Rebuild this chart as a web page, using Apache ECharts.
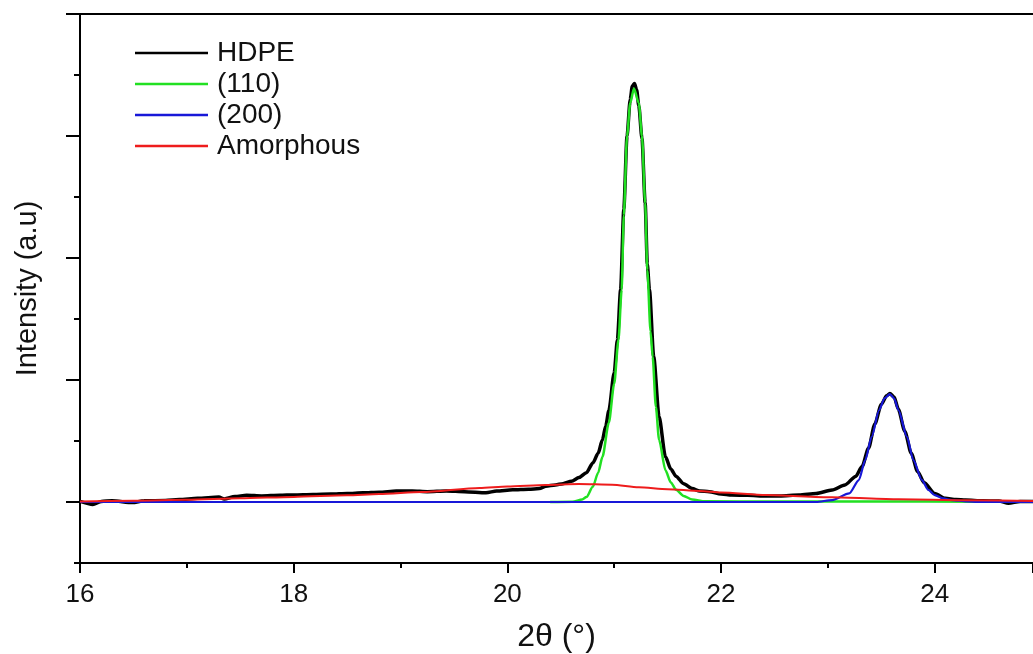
<!DOCTYPE html>
<html>
<head>
<meta charset="utf-8">
<script src="https://cdn.jsdelivr.net/npm/echarts@6/dist/echarts.min.js"></script>
<style>
  html, body { margin: 0; padding: 0; background: #ffffff; }
  #chart { width: 1033px; height: 654px; }
</style>
</head>
<body>
<div id="chart"></div>
<script>
// XRD pattern of HDPE with its peak deconvolution

// Measured pattern
const hdpeTheta = [
  16.00, 16.12, 16.20, 16.30, 16.49, 16.60, 16.80, 16.93, 17.10, 17.30, 17.35, 17.45,
  17.56, 17.70, 17.87, 18.00, 18.18, 18.35, 18.50, 18.65, 18.80, 18.96, 19.11, 19.25,
  19.43, 19.60, 19.80, 19.90, 20.05, 20.20, 20.30, 20.36, 20.45, 20.52, 20.60, 20.67,
  20.74, 20.80, 20.85, 20.89, 20.92, 20.95, 21.00, 21.03, 21.06, 21.09, 21.12, 21.15,
  21.17, 21.19, 21.21, 21.23, 21.26, 21.29, 21.31, 21.33, 21.37, 21.42, 21.48, 21.53,
  21.58, 21.65, 21.73, 21.80, 21.89, 22.00, 22.10, 22.25, 22.42, 22.55, 22.73, 22.89,
  23.04, 23.16, 23.26, 23.32, 23.38, 23.44, 23.50, 23.55, 23.58, 23.62, 23.66, 23.72,
  23.78, 23.84, 23.90, 24.00, 24.10, 24.20, 24.29, 24.45, 24.60, 24.69, 24.80, 25.00
];
const hdpeIntensity = [
  0.005, -0.02, 0.005, 0.010, -0.005, 0.010, 0.012, 0.020, 0.030, 0.040, 0.025, 0.045,
  0.055, 0.050, 0.055, 0.058, 0.062, 0.065, 0.070, 0.075, 0.080, 0.090, 0.090, 0.085,
  0.090, 0.085, 0.076, 0.090, 0.100, 0.105, 0.110, 0.130, 0.140, 0.150, 0.170, 0.200,
  0.240, 0.320, 0.400, 0.510, 0.620, 0.750, 1.060, 1.330, 1.740, 2.400, 3.000, 3.300,
  3.410, 3.430, 3.380, 3.250, 2.980, 2.450, 1.950, 1.740, 1.190, 0.700, 0.370, 0.270,
  0.210, 0.150, 0.110, 0.090, 0.085, 0.065, 0.057, 0.055, 0.049, 0.050, 0.057, 0.070,
  0.098, 0.140, 0.210, 0.290, 0.440, 0.640, 0.800, 0.870, 0.890, 0.860, 0.760, 0.580,
  0.400, 0.250, 0.160, 0.070, 0.030, 0.020, 0.016, 0.010, 0.008, -0.010, 0.005, 0.005
];

// (110) reflection
const p110Theta = [
  20.40, 20.61, 20.70, 20.74, 20.80, 20.85, 20.89, 20.95, 21.00, 21.04, 21.07, 21.09,
  21.12, 21.15, 21.185, 21.23, 21.26, 21.29, 21.31, 21.34, 21.36, 21.39, 21.42, 21.48,
  21.53, 21.58, 21.65, 21.73, 21.85, 22.50, 23.50, 24.40
];
const p110Intensity = [
  0.000, 0.003, 0.020, 0.040, 0.125, 0.240, 0.370, 0.650, 0.970, 1.330, 1.740, 2.350,
  3.000, 3.270, 3.390, 3.270, 3.000, 2.450, 1.900, 1.400, 1.190, 0.780, 0.510, 0.260,
  0.160, 0.100, 0.050, 0.020, 0.006, 0.004, 0.004, 0.003
];

// (200) reflection
const p200Theta = [
  16.00, 20.00, 22.89, 23.04, 23.20, 23.29, 23.35, 23.41, 23.48, 23.53, 23.58, 23.62,
  23.66, 23.74, 23.80, 23.88, 23.94, 24.00, 24.08, 24.16, 24.30, 24.40, 25.00
];
const p200Intensity = [
  0.000, 0.000, 0.000, 0.016, 0.070, 0.180, 0.344, 0.535, 0.754, 0.850, 0.885, 0.850,
  0.754, 0.535, 0.344, 0.180, 0.100, 0.057, 0.030, 0.016, 0.004, 0.000, 0.000
];

// Amorphous halo
const amorphTheta = [
  16.00, 16.50, 17.00, 17.50, 18.00, 18.50, 18.80, 19.20, 19.74, 20.00, 20.36, 20.67,
  20.98, 21.23, 21.50, 21.80, 22.00, 22.42, 23.04, 23.66, 24.29, 25.00
];
const amorphIntensity = [
  0.005, 0.010, 0.018, 0.030, 0.042, 0.055, 0.065, 0.082, 0.115, 0.128, 0.140, 0.148,
  0.142, 0.120, 0.105, 0.090, 0.078, 0.057, 0.038, 0.022, 0.014, 0.007
];

const seriesNames = ['HDPE', '(110)', '(200)', 'Amorphous'];
const seriesColors = ['#000000', '#22e022', '#1818d8', '#ee1c1c'];
const seriesWidths = [3.5, 2.5, 2.2, 2];
const thetaArrays = [hdpeTheta, p110Theta, p200Theta, amorphTheta];
const intensityArrays = [hdpeIntensity, p110Intensity, p200Intensity, amorphIntensity];

// Axis settings (the plotted window ends just short of 25°)
const thetaMin = 16, thetaMax = 24.92, thetaStep = 2;
const intensityMin = -0.5, intensityMax = 4, intensityStep = 0.5;
const intensityMajorTicks = [0, 1, 2, 3, 4];

const FONT = '"Liberation Sans", Arial, sans-serif';

function pairs(xs, ys) {
  return xs.map((x, i) => [x, ys[i]]);
}

const chart = echarts.init(document.getElementById('chart'), null, { renderer: 'canvas' });

const series = seriesNames.map((name, i) => ({
  name: name,
  type: 'line',
  data: pairs(thetaArrays[i], intensityArrays[i]),
  symbol: 'none',
  smooth: 0.25,
  smoothMonotone: 'x',
  lineStyle: { color: seriesColors[i], width: seriesWidths[i] },
  itemStyle: { color: seriesColors[i] },
  xAxisIndex: 0,
  yAxisIndex: 0,
  z: 2 + i,
  animation: false
}));

chart.setOption({
  animation: false,
  backgroundColor: '#ffffff',
  grid: {
    left: 80, right: 0, top: 14, bottom: 91,
    containLabel: false,
    outerBoundsMode: 'none'
  },
  legend: {
    data: seriesNames,
    orient: 'vertical',
    left: 135,
    top: 39,
    padding: 0,
    itemWidth: 73,
    itemHeight: 2.5,
    itemGap: 3,
    icon: 'rect',
    textStyle: {
      fontFamily: FONT,
      fontSize: 28,
      color: '#111111',
      lineHeight: 28,
      padding: [0, 0, 0, 4]
    }
  },
  xAxis: [
    {
      type: 'value',
      min: thetaMin,
      max: thetaMax,
      interval: thetaStep,
      position: 'bottom',
      name: '2θ (°)',
      nameLocation: 'middle',
      nameGap: 58,
      nameTextStyle: { fontFamily: FONT, fontSize: 32, color: '#111111' },
      axisLine: { show: true, onZero: false, lineStyle: { color: '#000000', width: 2 } },
      axisTick: { show: true, inside: false, length: 10, lineStyle: { color: '#000000', width: 2 } },
      minorTick: { show: true, splitNumber: 2, length: 5, lineStyle: { color: '#000000', width: 2 } },
      axisLabel: {
        show: true, margin: 19, showMaxLabel: false,
        fontFamily: FONT, fontSize: 26, color: '#111111'
      },
      splitLine: { show: false }
    },
    {
      type: 'value',
      min: thetaMin,
      max: thetaMax,
      position: 'top',
      axisLine: { show: true, onZero: false, lineStyle: { color: '#000000', width: 2 } },
      axisTick: { show: false },
      axisLabel: { show: false },
      splitLine: { show: false }
    }
  ],
  yAxis: [
    {
      type: 'value',
      min: intensityMin,
      max: intensityMax,
      interval: intensityStep,
      position: 'left',
      name: 'Intensity (a.u)',
      nameLocation: 'middle',
      nameGap: 38,
      nameTextStyle: { fontFamily: FONT, fontSize: 29, color: '#111111' },
      axisLine: { show: true, onZero: false, lineStyle: { color: '#000000', width: 2 } },
      axisTick: { show: true, inside: false, length: 6, lineStyle: { color: '#000000', width: 2 } },
      axisLabel: { show: false },
      splitLine: { show: false }
    },
    {
      type: 'value',
      min: intensityMin,
      max: intensityMax,
      position: 'left',
      offset: 0,
      axisLine: { show: false },
      axisTick: {
        show: true, inside: false, length: 14,
        customValues: intensityMajorTicks,
        lineStyle: { color: '#000000', width: 2 }
      },
      axisLabel: { show: false },
      splitLine: { show: false }
    }
  ],
  series: series
});
</script>
</body>
</html>
